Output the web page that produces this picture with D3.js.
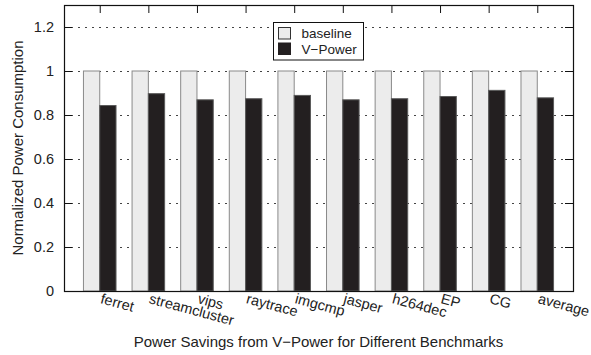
<!DOCTYPE html>
<html lang="en">
<head>
    <meta charset="utf-8">
    <title>Power Savings from V-Power</title>
    <script src="https://d3js.org/d3.v7.min.js"></script>
<style>
    body { margin: 0; background: #fff; }
    #chart1 { width: 591px; height: 355px; }
    text { font-family: "Liberation Sans", Arial, Helvetica, sans-serif; fill: #222; }
</style>
</head>
<body>
  <div id="chart1"></div>

<script>

    // benchmarks along the x axis
    var benchmarks = ["ferret", "streamcluster", "vips", "raytrace", "imgcmp", "jasper", "h264dec", "EP", "CG", "average"]

    // normalized power
    var baseline = [1, 1, 1, 1, 1, 1, 1, 1, 1, 1]
    var vPower = [0.843, 0.897, 0.869, 0.874, 0.889, 0.869, 0.874, 0.884, 0.912, 0.878]

    var seriesNames = ["baseline", "V\u2212Power"]
    var yTicks = [0, 0.2, 0.4, 0.6, 0.8, 1, 1.2]

    const powerApp = {}

    powerApp.buildChart = () => {

        d3.select('#chart1').html('')

        var margin = {top: 5, right: 18, bottom: 64, left: 64},
            width = 591 - margin.left - margin.right,
            height = 355 - margin.top - margin.bottom;

        var svg = d3.select("#chart1")
        .append("svg")
            .attr("width", 591)
            .attr("height", 355)
        .append("g")
            .attr("transform", "translate(" + margin.left + "," + margin.top + ")");

        //////////
        // SCALES //
        //////////

        // gnuplot style histogram: group i sits at x = i
        var x = d3.scaleLinear()
            .domain([-0.735, benchmarks.length - 1 + 0.735])
            .range([0, width])

        var y = d3.scaleLinear()
            .domain([0, 1.3])
            .range([height, 0])

        var barW = 0.335

        //////////
        // GRID //
        //////////

        svg.append("g")
            .selectAll("line")
            .data(yTicks.filter(function(d) { return d > 0 }))
            .enter()
            .append("line")
            .attr("x1", 0)
            .attr("x2", width)
            .attr("y1", function(d) { return Math.round(y(d)) + 0.5 })
            .attr("y2", function(d) { return Math.round(y(d)) + 0.5 })
            .style("stroke", "#444")
            .style("stroke-width", 1)
            .style("stroke-dasharray", "2,5")

        //////////
        // BARS //
        //////////

        var data = benchmarks.map(function(b, i) {
            return {name: b, i: i, values: [baseline[i], vPower[i]]}
        })

        var fills = ["#ececec", "#231f20"]
        var strokes = ["#8a8a8a", "#5a5a5a"]

        var groups = svg.selectAll(".group")
            .data(data)
            .enter()
            .append("g")
            .attr("class", "group")

        groups.selectAll("rect")
            .data(function(d) { return d.values.map(function(v, k) { return {i: d.i, k: k, v: v} }) })
            .enter()
            .append("rect")
            .attr("x", function(d) { return x(d.i - barW + d.k * barW) })
            .attr("width", function(d) { return x(barW) - x(0) })
            .attr("y", function(d) { return y(d.v) })
            .attr("height", function(d) { return y(0) - y(d.v) })
            .style("fill", function(d) { return fills[d.k] })
            .style("stroke", function(d) { return strokes[d.k] })
            .style("stroke-width", 1)

        //////////
        // AXIS //
        //////////

        // y ticks, mirrored on the right
        var yAxis = svg.append("g")
            .call(d3.axisLeft(y).tickValues(yTicks).tickSize(-8).tickPadding(10)
                .tickFormat(function(d) { return d3.format("~g")(d) }))
        yAxis.select(".domain").remove()
        yAxis.selectAll("line").style("stroke", "#111")
        yAxis.selectAll("text")
            .style("font-size", "14.5px")
            .style("font-family", "'Liberation Sans', Arial, sans-serif")
            .style("fill", "#222")

        var yAxisR = svg.append("g")
            .attr("transform", "translate(" + width + ",0)")
            .call(d3.axisRight(y).tickValues(yTicks).tickSize(-8).tickFormat(""))
        yAxisR.select(".domain").remove()
        yAxisR.selectAll("line").style("stroke", "#111")

        // x ticks mirrored on the top edge
        var xTop = svg.append("g")
            .call(d3.axisTop(x).tickValues(d3.range(benchmarks.length)).tickSize(-8).tickFormat(""))
        xTop.select(".domain").remove()
        xTop.selectAll("line").style("stroke", "#111")

        // frame
        svg.append("rect")
            .attr("x", 0.5)
            .attr("y", 0.5)
            .attr("width", width)
            .attr("height", height)
            .style("fill", "none")
            .style("stroke", "#111")
            .style("stroke-width", 1.2)

        // rotated benchmark labels
        svg.append("g")
            .selectAll("text")
            .data(benchmarks)
            .enter()
            .append("text")
            .attr("transform", function(d, i) { return "translate(" + x(i) + "," + (height + 12) + ") rotate(15)" })
            .attr("text-anchor", "start")
            .style("font-size", "14.5px")
            .text(function(d) { return d })

        // axis titles
        svg.append("text")
            .attr("x", width / 2)
            .attr("y", height + 56)
            .attr("text-anchor", "middle")
            .style("font-size", "15px")
            .text("Power Savings from V\u2212Power for Different Benchmarks")

        svg.append("text")
            .attr("transform", "translate(" + (-41) + "," + (height / 2) + ") rotate(-90)")
            .attr("text-anchor", "middle")
            .style("font-size", "15px")
            .text("Normalized Power Consumption")

        //////////
        // LEGEND //
        //////////

        var legend = svg.append("g")
            .attr("transform", "translate(" + (273.5 - margin.left) + "," + (22.5 - margin.top) + ")")

        legend.append("rect")
            .attr("width", 90)
            .attr("height", 37.5)
            .style("fill", "#fff")
            .style("stroke", "#111")
            .style("stroke-width", 1)

        var items = legend.selectAll(".item")
            .data(seriesNames)
            .enter()
            .append("g")
            .attr("class", "item")
            .attr("transform", function(d, i) { return "translate(5," + (5 + i * 15.5) + ")" })

        items.append("rect")
            .attr("width", 12)
            .attr("height", 11.5)
            .style("fill", function(d, i) { return fills[i] })
            .style("stroke", function(d, i) { return i == 0 ? "#333" : "#231f20" })

        items.append("text")
            .attr("x", 23)
            .attr("y", 10.5)
            .style("font-size", "13.5px")
            .text(function(d) { return d })
    }

    powerApp.buildChart()

</script>
</body>
</html>
